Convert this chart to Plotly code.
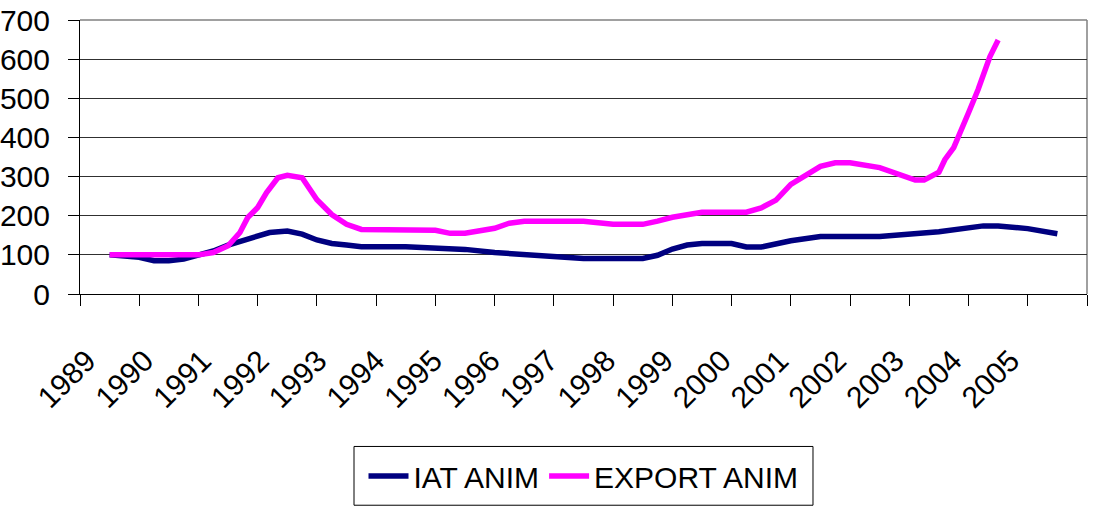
import plotly.graph_objects as go

# Index series (1989 = 100), positions given as fractional years
iat_years = [1989.0, 1989.5, 1989.75, 1990.0, 1990.25, 1990.5, 1990.75, 1991.0,
             1991.4, 1991.7, 1992.0, 1992.25, 1992.5, 1992.75, 1993.0, 1993.25,
             1994.0, 1994.5, 1995.0, 1995.5, 1996.0, 1996.5, 1997.0, 1998.0,
             1998.25, 1998.5, 1998.75, 1999.0, 1999.5, 1999.75, 2000.0, 2000.5,
             2001.0, 2002.0, 2003.0, 2003.75, 2004.0, 2004.5, 2005.0]
iat_values = [100, 94, 85, 85, 89, 98, 110, 125,
              145, 157, 161, 153, 138, 129, 125, 121,
              121, 117, 114, 106, 102, 98, 91, 91,
              99, 115, 125, 129, 129, 120, 120, 136,
              147, 147, 159, 174, 174, 167, 154]

export_years = [1989.0, 1990.5, 1990.75, 1991.0, 1991.2, 1991.33, 1991.5, 1991.65,
                1991.84, 1992.0, 1992.25, 1992.5, 1992.75, 1993.0, 1993.25, 1994.0,
                1994.5, 1994.75, 1995.0, 1995.5, 1995.75, 1996.0, 1997.0, 1997.5,
                1998.0, 1998.25, 1998.5, 1999.0, 1999.75, 2000.0, 2000.25, 2000.5,
                2001.0, 2001.25, 2001.5, 2002.0, 2002.33, 2002.6, 2002.75, 2003.0,
                2003.1, 2003.25, 2003.5, 2003.66, 2003.86, 2004.0]
export_values = [100, 100, 106, 123, 157, 195, 221, 259,
                 297, 303, 297, 241, 203, 178, 165, 165,
                 163, 155, 155, 168, 181, 186, 186, 178,
                 178, 186, 196, 209, 209, 220, 240, 280,
                 326, 335, 335, 323, 305, 291, 291, 311,
                 343, 374, 463, 522, 606, 649]

year_labels = [str(y) for y in range(1989, 2006)]
year_ticks = list(range(1989, 2006))
y_ticks = list(range(0, 701, 100))

FONT = "Liberation Sans, Arial, sans-serif"

fig = go.Figure()
fig.add_trace(go.Scatter(x=iat_years, y=iat_values, mode="lines", name="IAT ANIM",
                         line=dict(color="#000080", width=5.5)))
fig.add_trace(go.Scatter(x=export_years, y=export_values, mode="lines", name="EXPORT ANIM",
                         line=dict(color="#FF00FF", width=5.5)))
# empty carrier trace for the label axis (slightly tighter label spacing)
fig.add_trace(go.Scatter(x=year_ticks, y=[None] * len(year_ticks), xaxis="x2",
                         mode="lines", showlegend=False, hoverinfo="skip"))

# grey frame on the top and right of the plot area
fig.add_shape(type="line", xref="paper", yref="paper", x0=0, x1=1, y0=1, y1=1,
              line=dict(color="#808080", width=1.5), layer="below")
fig.add_shape(type="line", xref="paper", yref="paper", x0=1, x1=1, y0=0, y1=1,
              line=dict(color="#808080", width=1.5), layer="below")
# legend frame
fig.add_shape(type="rect", xref="paper", yref="paper",
              x0=0.2721, x1=0.7279, y0=-0.7709, y1=-0.5564,
              line=dict(color="black", width=1), fillcolor="white", layer="below")

fig.update_layout(
    width=1095, height=508,
    margin=dict(l=80, r=8, t=20, b=213),
    paper_bgcolor="white", plot_bgcolor="white",
    font=dict(family=FONT, color="black", size=30),
    xaxis=dict(
        automargin=False,
        range=[1988.5, 2005.5], showticklabels=False, ticks="",
        showgrid=False, zeroline=False,
        showline=True, linecolor="black", linewidth=1,
        minor=dict(ticks="outside", tick0=1988.5, dtick=1, ticklen=11,
                   tickcolor="black", tickwidth=1, showgrid=False),
    ),
    xaxis2=dict(
        automargin=False, overlaying="x", anchor="y", side="bottom",
        range=[1988.88, 2006.32], tickmode="array", tickvals=year_ticks,
        ticktext=year_labels, tickangle=-45, ticks="", showgrid=False,
        zeroline=False, showline=False,
        tickfont=dict(size=30), ticklabelstandoff=42,
    ),
    yaxis=dict(
        automargin=False,
        range=[0, 700], tickmode="array", tickvals=y_ticks,
        ticks="outside", ticklen=11, tickcolor="black",
        showgrid=True, gridcolor="#303030", gridwidth=1, zeroline=False,
        showline=True, linecolor="black", linewidth=1,
        tickfont=dict(size=30), ticklabelstandoff=12,
    ),
    legend=dict(orientation="h", xanchor="center", x=0.5, yanchor="middle", y=-0.658,
                borderwidth=0, bgcolor="rgba(0,0,0,0)",
                font=dict(size=30), itemwidth=40),
    showlegend=True,
)

fig.write_html("out.html")
